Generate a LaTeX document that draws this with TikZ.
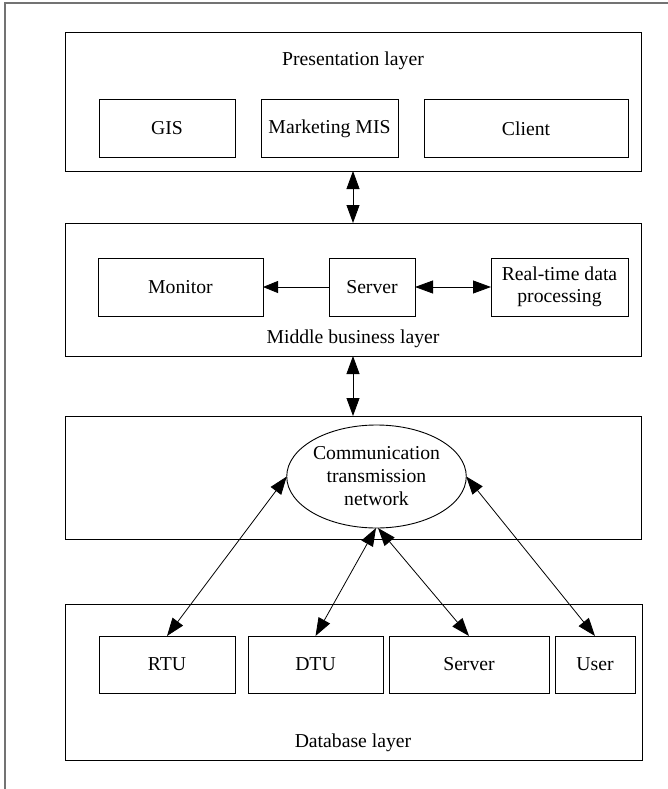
\documentclass[tikz,border=0pt]{standalone}
\usepackage{fontspec}
\setmainfont{Liberation Serif}
\usetikzlibrary{arrows.meta,shapes.geometric}

\begin{document}
\begin{tikzpicture}[x=1pt,y=-1pt,
  every node/.style={font=\fontsize{19.7}{23}\selectfont},
  layerbox/.style={draw, line width=1pt, inner sep=0pt, outer sep=0pt, anchor=north west},
  unitbox/.style={draw, line width=1pt, inner sep=0pt, outer sep=0pt, anchor=north west,
                  minimum height=57pt, align=center},
  netshape/.style={draw, ellipse, line width=0.9pt, inner sep=0pt, outer sep=0pt,
                   minimum width=177pt, minimum height=103pt, align=center},
  conn/.style={line width=0.8pt, {Triangle[length=18pt,width=13pt]}-{Triangle[length=18pt,width=13pt]}},
  oneway/.style={line width=0.8pt, {Triangle[length=15pt,width=12pt]}-},
  framecol/.style={draw=black!55, line width=1.3pt}
]
\useasboundingbox (0,0) rectangle (668,789);

% outer frame (top and left rules)
\draw[framecol] (5,789) -- (5,3) -- (668,3);

% presentation layer
\node[layerbox, minimum width=576pt, minimum height=138pt] (pres) at (65,33) {};
\node (preslabel) at (353,61) {Presentation layer};
\node[unitbox, minimum width=136pt] (gis) at (99,100) {GIS};
\node[unitbox, minimum width=137pt] (mis) at (261,100) {Marketing MIS};
\node[unitbox, minimum width=204pt] (client) at (424,100) {Client};

% middle business layer
\node[layerbox, minimum width=576pt, minimum height=133pt] (mid) at (65,223) {};
\node[unitbox, minimum width=165pt, minimum height=58pt] (monitor) at (98,258) {Monitor};
\node[unitbox, minimum width=86pt, minimum height=58pt] (midserver) at (329,258) {Server};
\node[unitbox, minimum width=137pt, minimum height=58pt, font=\fontsize{19.7}{22}\selectfont] (realtime) at (491,258) {Real-time data\\processing};
\node (midlabel) at (353,339) {Middle business layer};

% communication layer
\node[layerbox, minimum width=576pt, minimum height=123pt] (comm) at (65,416) {};
\node[netshape] (net) at (376.5,476.5) {Communication\\transmission\\network};

% database layer
\node[layerbox, minimum width=577pt, minimum height=156pt] (db) at (65,604) {};
\node[unitbox, minimum width=136pt] (rtu) at (99,636) {RTU};
\node[unitbox, minimum width=135pt] (dtu) at (248,636) {DTU};
\node[unitbox, minimum width=160pt] (dbserver) at (389,636) {Server};
\node[unitbox, minimum width=80pt] (user) at (555,636) {User};
\node (dblabel) at (353,743) {Database layer};

% connectors between layers
\draw[conn] (pres.south) -- (mid.north);
\draw[conn] (mid.south) -- (comm.north);

% connectors inside the middle layer
\draw[oneway] (monitor.east) -- (midserver.west);
\draw[conn] (midserver.east) -- (realtime.west);

% connectors from the network to the field units
\draw[conn] (net.west) -- (rtu.north);
\draw[conn] ([xshift=-0.5pt]net.south) -- (dtu.north);
\draw[conn] ([xshift=1.5pt]net.south) -- (dbserver.north);
\draw[conn] (net.east) -- (user.north);
\end{tikzpicture}
\end{document}
